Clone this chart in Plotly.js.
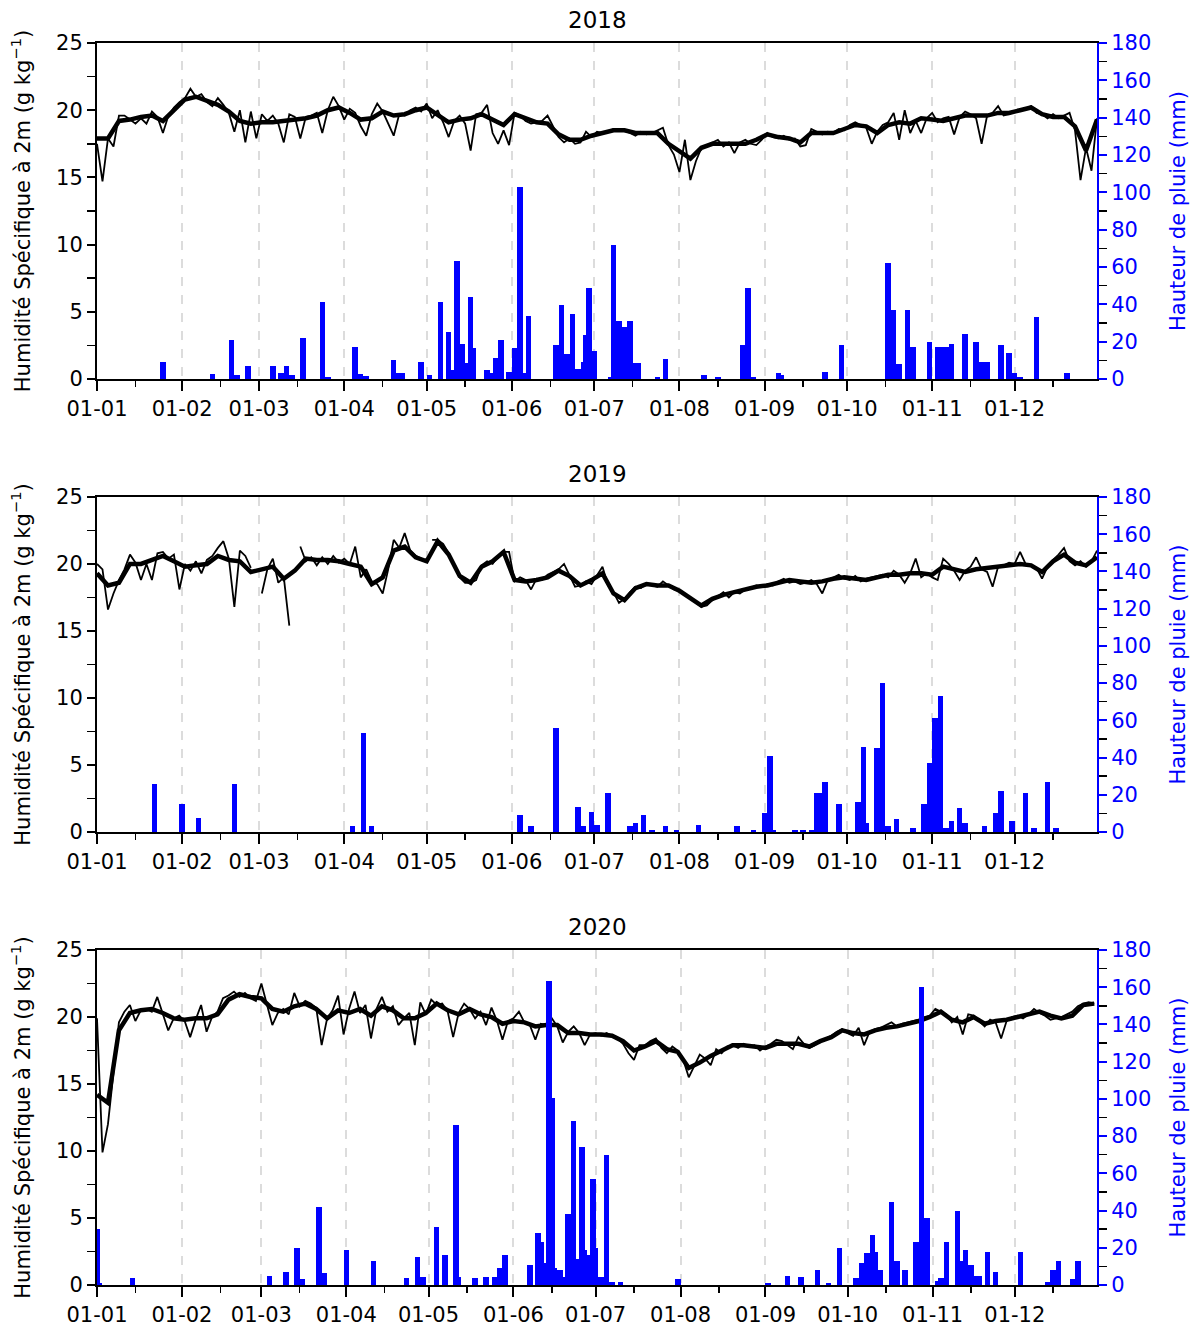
<!DOCTYPE html>
<html><head><meta charset="utf-8">
<script src="https://cdn.plot.ly/plotly-3.0.1.min.js"></script>
<style>body{margin:0;background:#fff}#chart{width:1199px;height:1329px}</style>
</head><body><div id="chart"></div>
<script>
const years = [2018, 2019, 2020];
const monthLabels = ['01-01','01-02','01-03','01-04','01-05','01-06','01-07','01-08','01-09','01-10','01-11','01-12'];

// Daily specific humidity (thin line), one value every 2 days starting 1 Jan (g/kg)
const thin2018 = [17.5,14.7,17.9,17.3,19.6,19.6,19.3,19.0,19.4,19.0,19.9,19.5,18.3,19.6,20.2,20.6,20.9,21.6,21.0,21.2,20.6,20.3,20.9,20.4,19.8,18.4,20.0,17.6,19.9,17.9,19.7,19.2,19.6,19.0,17.6,19.7,19.5,17.9,19.5,19.6,19.8,18.3,20.0,21.0,20.3,19.3,20.1,19.8,18.8,18.1,19.7,20.5,19.9,19.0,18.1,19.7,19.6,20.0,20.2,19.9,20.5,19.4,20.0,19.1,18.0,19.2,19.6,19.0,17.0,19.7,19.8,20.4,18.3,17.5,18.5,17.4,19.8,19.6,19.2,19.0,19.1,19.2,19.6,18.8,18.0,17.6,17.9,17.5,17.6,18.4,18.0,18.4,18.3,18.4,18.6,18.6,18.5,18.3,18.1,18.4,18.2,18.3,18.5,18.7,17.4,16.7,15.4,17.8,14.8,16.2,17.2,17.4,17.6,17.8,17.3,17.6,16.8,17.6,17.8,17.5,17.4,17.8,18.3,18.0,17.9,18.1,17.8,17.9,17.3,17.4,18.6,18.4,18.2,18.4,18.3,18.6,18.5,18.9,19.1,18.9,18.7,17.5,18.4,18.9,19.1,19.8,17.8,20.0,18.3,19.2,18.3,19.4,19.8,19.1,19.4,19.5,18.2,19.5,19.9,19.7,19.4,17.5,19.6,19.8,20.3,19.6,19.7,19.9,20.0,20.1,20.3,19.8,19.7,19.4,19.7,19.4,19.6,19.8,18.5,14.8,17.2,15.5,19.4];
const thin2019 = [20.0,19.6,16.6,17.8,18.8,19.6,20.7,20.1,18.8,20.0,18.8,20.8,20.9,20.4,20.7,18.1,20.0,19.5,20.2,19.3,20.3,20.6,21.2,21.7,20.4,16.8,21.0,20.6,19.7,null,17.8,19.6,20.4,18.6,19.0,15.4,null,21.3,20.2,20.5,19.9,20.5,20.0,20.6,20.1,20.4,20.0,21.3,19.0,19.6,18.7,18.5,17.8,19.6,21.8,21.2,22.3,21.0,20.6,20.4,null,21.8,21.8,21.5,20.8,19.8,19.0,18.6,18.6,18.8,19.9,20.2,20.0,20.6,20.9,20.9,18.7,19.0,18.8,18.1,18.9,18.8,19.2,19.4,19.6,20.0,19.2,18.3,18.4,18.7,18.5,19.2,19.8,18.4,17.9,17.1,17.4,17.9,18.3,18.2,18.5,18.4,18.3,18.7,18.4,18.1,18.0,17.7,17.4,17.1,16.8,16.9,17.3,17.6,17.9,17.5,17.9,17.8,18.1,18.2,18.4,18.3,18.5,18.4,18.7,18.9,18.6,18.7,18.5,18.6,18.8,18.5,17.8,18.8,19.0,19.2,18.9,18.8,19.1,18.7,18.9,19.0,19.1,19.2,19.0,19.5,19.2,18.6,19.3,20.4,19.0,19.3,19.0,18.8,20.4,20.0,19.5,18.8,19.5,19.8,20.5,19.6,19.4,18.3,19.8,19.9,20.1,20.0,20.9,20.0,19.9,19.7,18.9,19.8,20.3,20.7,21.2,20.2,19.9,20.2,19.8,20.2,21.0];
const thin2020 = [19.9,9.9,12.0,15.7,19.6,20.4,20.9,19.7,20.5,20.6,20.4,21.5,20.3,19.0,19.9,20.1,19.7,18.5,19.8,20.9,18.9,20.0,20.4,21.4,21.6,21.9,21.5,21.8,21.4,21.2,22.5,21.0,19.4,20.3,20.6,20.2,21.8,20.8,21.2,21.0,20.7,17.9,19.9,20.5,21.6,18.7,20.6,21.9,20.3,20.9,18.4,20.6,21.5,20.4,20.8,19.4,19.9,20.3,17.9,21.1,20.2,21.3,20.9,21.0,20.4,18.5,20.3,21.0,20.6,19.9,20.4,19.4,20.7,19.7,18.3,19.7,19.9,20.4,19.6,19.4,18.3,19.5,19.4,19.9,19.3,18.1,18.9,19.3,18.8,17.9,18.7,18.8,18.6,18.8,18.6,18.4,18.0,17.3,16.8,17.9,17.9,18.2,18.4,17.7,17.3,17.8,17.5,16.8,15.5,16.3,17.2,16.9,16.4,17.6,17.3,17.8,17.9,17.7,18.0,17.8,17.9,17.5,17.8,18.0,18.3,18.2,17.9,17.6,18.5,18.0,17.7,17.9,18.2,18.4,18.6,18.9,19.1,18.8,18.6,19.2,17.9,18.9,19.1,19.2,19.4,19.6,19.3,19.5,19.6,19.7,19.8,20.0,20.1,20.6,20.4,20.2,19.6,20.0,18.7,20.2,20.1,19.7,19.3,19.8,19.6,18.4,19.7,20.0,20.1,19.9,20.2,20.6,20.3,20.1,19.8,19.9,20.0,20.2,20.4,20.8,21.0,21.1,21.0];

// Smoothed specific humidity (thick line), one value every 4 days starting 1 Jan (g/kg)
const thick2018 = [17.9,17.9,19.2,19.3,19.5,19.6,19.2,20.0,20.8,21.0,20.7,20.4,19.9,19.2,19.0,19.1,19.1,19.2,19.3,19.4,19.6,20.0,20.2,19.8,19.3,19.4,19.9,19.6,19.7,20.0,20.2,19.6,19.1,19.3,19.4,19.7,19.3,18.9,19.7,19.4,19.1,19.0,18.2,17.8,17.8,18.1,18.3,18.5,18.5,18.3,18.3,18.3,17.5,16.9,16.4,17.2,17.5,17.5,17.5,17.5,17.8,18.2,18.0,17.9,17.6,18.3,18.3,18.3,18.6,18.9,18.8,18.3,18.9,19.1,19.0,19.4,19.3,19.2,19.4,19.6,19.6,19.6,19.8,19.8,20.0,20.2,19.7,19.5,19.5,18.8,17.0,19.3];
const thick2019 = [19.3,18.4,18.6,20.0,20.0,20.3,20.6,20.2,19.8,19.9,20.0,20.6,20.3,20.2,19.4,19.6,19.8,18.9,19.5,20.4,20.3,20.3,20.2,20.0,19.8,18.5,19.0,21.0,21.3,20.5,20.2,21.7,20.7,19.1,18.6,19.8,20.2,20.9,18.8,18.7,18.8,19.0,19.5,19.1,18.4,18.8,19.3,17.8,17.3,18.2,18.5,18.4,18.4,18.0,17.4,16.9,17.4,17.7,17.9,18.1,18.3,18.4,18.6,18.8,18.7,18.6,18.7,18.9,19.0,18.9,18.8,19.0,19.2,19.2,19.3,19.3,19.2,19.8,19.6,19.4,19.6,19.7,19.8,19.9,20.0,19.9,19.4,20.2,20.7,20.1,19.9,20.5];
const thick2020 = [14.2,13.6,19.0,20.3,20.5,20.6,20.3,19.9,19.8,19.9,19.9,20.2,21.3,21.7,21.5,21.4,20.6,20.4,20.8,21.0,20.6,19.9,20.5,20.3,20.6,20.1,20.8,20.5,19.9,19.9,20.3,21.0,20.5,20.2,20.6,20.2,20.0,19.5,19.7,19.6,19.3,19.4,19.4,18.8,18.8,18.7,18.7,18.6,18.2,17.5,17.8,18.2,17.6,17.4,16.2,16.6,17.1,17.5,17.9,17.9,17.8,17.7,18.0,18.0,18.0,17.8,18.2,18.5,19.0,18.8,18.7,19.0,19.2,19.3,19.5,19.7,20.0,20.4,19.8,19.6,20.0,19.5,19.7,19.8,20.0,20.2,20.4,20.1,19.9,20.1,20.9,21.0];

// Daily rain (mm): day of year (0 = 1 Jan) and amount
const rainDays2018 = [24,42,49,51,55,64,67,69,71,75,82,84,94,96,98,108,110,111,118,121,125,128,129,131,133,134,136,137,142,144,145,147,150,151,152,154,156,157,167,169,171,173,175,177,178,179,181,187,188,190,192,194,196,197,204,207,221,226,235,237,239,248,249,265,271,288,290,292,295,297,303,306,308,310,311,316,320,322,324,329,332,334,336,342,353];
const rainMm2018 = [9,2.7,21,2,7,7,3,7,2,22,41,1,17,2.6,1.5,10,3,3,9,2,41,25,5,63,19,8.5,44,16.6,5,3,11,21,4,4,16.6,103,3,34,18,39.5,13.4,35,5.4,9,23.6,49,15,1,72,31,28,31,8.4,8.4,1,10.7,2,1,18,49,1,3,2,4,18,62,37,8,37,17,20,17,17,17,19,24,20,9,9,18,14,3,1,33,3];
const rainDays2019 = [21,31,37,50,93,97,100,154,158,167,175,177,180,182,186,194,196,199,202,207,211,219,233,239,243,245,246,254,257,260,262,263,265,270,277,279,280,284,286,288,291,297,301,303,305,307,309,311,314,316,323,327,329,333,338,341,346,349];
const rainMm2019 = [26,15,7.5,26,3,53,3,9,3,56,13.4,3,11,4,21,3,5,9,1,3,1,4,3.4,1,10,41,1,1,1,1,21,21,27,15,16.3,45.5,5,45,80,3.4,7,2,15,37,61,73,2.2,6,13,5,3.4,10,22,6,21,2,27,2];
const rainDays2020 = [0,1,13,63,69,73,75,81,83,91,101,113,117,119,124,127,131,132,138,142,145,147,149,158,161,162,163,165,166,167,169,170,172,174,175,177,178,179,181,182,183,184,186,188,191,212,245,252,257,263,267,271,277,279,281,283,284,286,290,292,295,299,301,302,303,307,308,310,314,315,317,319,321,322,325,328,337,347,349,351,356,358];
const rainMm2020 = [30,1,4,5,7,20,3,42,6.5,19,13,4,15,4.5,31,16,86,4.5,3.5,4.5,4.5,9,16,11,28,23,12,163.5,100.6,9,8,4.5,38,88,14,74,19,16,57,20,2,4.5,70,1.5,1.5,3,1,5,4.5,8,1,20,4,12,17,27,18,8,44.6,13,8,23,160,19,36,2,4,23,40,13,19,11,5,5,18,7,18,1.5,8,13,3,13];

const thinSeries = {2018: thin2018, 2019: thin2019, 2020: thin2020};
const thickSeries = {2018: thick2018, 2019: thick2019, 2020: thick2020};
const rainDays = {2018: rainDays2018, 2019: rainDays2019, 2020: rainDays2020};
const rainMm = {2018: rainMm2018, 2019: rainMm2019, 2020: rainMm2020};

function dateOf(year, d) {
  return new Date(Date.UTC(year, 0, 1) + d * 86400000).toISOString().slice(0, 10);
}
function pad(n){return (n<10?'0':'')+n;}

const domains = [[0.7295, 1], [0.3647, 0.6345], [0, 0.2697]];
const FONT = 'DejaVu Sans, sans-serif';
const TICK = 21;
const traces = [];
const layout = {
  width: 1199, height: 1329,
  margin: {l: 97, r: 102, t: 43, b: 44},
  paper_bgcolor: '#fff', plot_bgcolor: '#fff',
  showlegend: false, bargap: 0,
  font: {family: FONT, size: TICK, color: '#000'},
  annotations: []
};

years.forEach((yr, i) => {
  const n = i + 1;
  const xs = n === 1 ? '' : String(n);
  const yl = n === 1 ? '' : String(n);
  const yr2 = String(n + 3);
  const thin = thinSeries[yr];
  const thick = thickSeries[yr];
  traces.push({
    type: 'scatter', mode: 'lines', xaxis: 'x' + xs, yaxis: 'y' + yl,
    x: thin.map((_, k) => dateOf(yr, 2 * k)), y: thin,
    line: {color: '#000', width: 1.8}, connectgaps: false, hoverinfo: 'skip'
  });
  traces.push({
    type: 'scatter', mode: 'lines', xaxis: 'x' + xs, yaxis: 'y' + yl,
    x: thick.map((_, k) => dateOf(yr, 4 * k)), y: thick,
    line: {color: '#000', width: 4.5}, hoverinfo: 'skip'
  });
  traces.push({
    type: 'bar', xaxis: 'x' + xs, yaxis: 'y' + yr2,
    x: rainDays[yr].map(d => dateOf(yr, d)), y: rainMm[yr],
    width: rainDays[yr].map(() => 2 * 86400000),
    marker: {color: '#0000ff', line: {width: 0}}, hoverinfo: 'skip'
  });

  const minorVals = [];
  for (let m = 1; m <= 12; m++) minorVals.push(yr + '-' + pad(m) + '-15');
  const majorVals = [];
  for (let m = 1; m <= 12; m++) majorVals.push(yr + '-' + pad(m) + '-01');

  layout['xaxis' + xs] = {
    type: 'date', domain: [0, 1], anchor: 'y' + yl,
    range: [yr + '-01-01', yr + '-12-31'],
    tickmode: 'array', tickvals: majorVals, ticktext: monthLabels,
    ticks: 'outside', ticklen: 10, tickwidth: 2, tickcolor: '#000',
    showline: true, linewidth: 2, linecolor: '#000', mirror: true,
    showgrid: true, gridcolor: '#dcdcdc', griddash: 'dash', gridwidth: 2,
    zeroline: false,
    minor: {tickmode: 'array', tickvals: minorVals, ticks: 'outside', ticklen: 6, tickwidth: 1.5, tickcolor: '#000', showgrid: false},
    tickfont: {size: TICK, color: '#000'}
  };
  layout['yaxis' + yl] = {
    domain: domains[i], anchor: 'x' + xs, range: [0, 25],
    tickmode: 'array', tickvals: [0, 5, 10, 15, 20, 25],
    ticks: 'outside', ticklen: 8, tickwidth: 2, tickcolor: '#000',
    showline: true, linewidth: 2, linecolor: '#000',
    showgrid: false, zeroline: false,
    minor: {tickmode: 'array', tickvals: [2.5, 7.5, 12.5, 17.5, 22.5], ticks: 'outside', ticklen: 8, tickwidth: 1.5, tickcolor: '#000', showgrid: false},
    tickfont: {size: TICK, color: '#000'},
    title: {text: 'Humidité Spécifique à 2m (g kg<sup>−1</sup>)', font: {size: TICK, color: '#000'}, standoff: 20}
  };
  layout['yaxis' + yr2] = {
    overlaying: 'y' + yl, side: 'right', anchor: 'x' + xs, range: [0, 180],
    tickmode: 'linear', tick0: 0, dtick: 20,
    ticks: 'outside', ticklen: 8, tickwidth: 2, tickcolor: '#0000ff',
    showline: true, linewidth: 2, linecolor: '#0000ff',
    showgrid: false, zeroline: false,
    minor: {tickmode: 'linear', tick0: 0, dtick: 10, ticks: 'outside', ticklen: 8, tickwidth: 1.5, tickcolor: '#000', showgrid: false},
    tickfont: {size: TICK, color: '#0000ff'},
    title: {text: 'Hauteur de pluie (mm)', font: {size: TICK, color: '#0000ff'}, standoff: 20}
  };
  layout.annotations.push({
    text: String(yr), xref: 'x' + xs + ' domain', yref: 'y' + yl + ' domain',
    x: 0.5, y: 1, xanchor: 'center', yanchor: 'bottom', yshift: 8,
    showarrow: false, font: {size: 23, color: '#000'}
  });
});

Plotly.newPlot('chart', traces, layout, {displayModeBar: false, staticPlot: true});
</script></body></html>
